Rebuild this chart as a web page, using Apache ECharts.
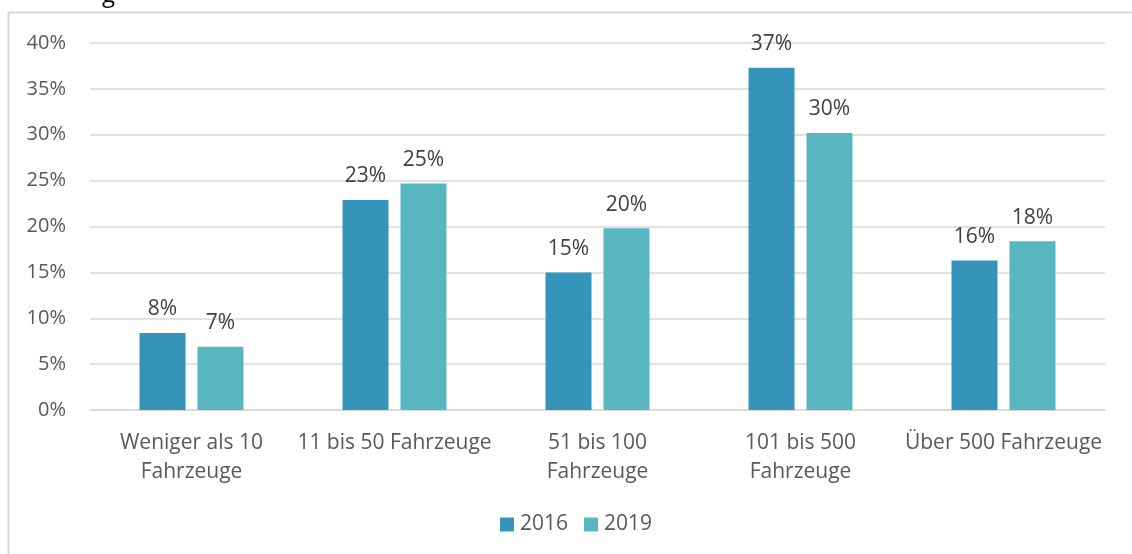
<!DOCTYPE html>
<html><head><meta charset="utf-8">
<script src="https://cdn.jsdelivr.net/npm/echarts@6/dist/echarts.min.js"></script>
<style>html,body{margin:0;padding:0;background:#fff}#c{width:1132px;height:554px}</style>
</head><body><div id="c"></div>
<script>
const categories = ["Weniger als 10\nFahrzeuge", "11 bis 50 Fahrzeuge", "51 bis 100\nFahrzeuge", "101 bis 500\nFahrzeuge", "Über 500 Fahrzeuge"];
const seriesNames = ["2016", "2019"];
const values2016 = [8.4, 22.9, 15.0, 37.3, 16.3];
const values2019 = [6.9, 24.7, 19.8, 30.2, 18.4];
const yTicks = [0, 5, 10, 15, 20, 25, 30, 35, 40];

const FONT = '"Open Sans", "Noto Sans", sans-serif';
const TXT = '#595959';
const FS = 21;
const chart = echarts.init(document.getElementById('c'), null, {renderer: 'canvas'});
chart.setOption({
  animation: false,
  textStyle: {fontFamily: FONT},
  graphic: [
    {type: 'rect', shape: {x: 8.5, y: 12.5, width: 1200, height: 700}, style: {fill: 'none', stroke: '#D9D9D9', lineWidth: 2}, silent: true, z: -1},
    {type: 'text', x: 102, y: -17, style: {text: 'g', fontSize: 24, fontFamily: FONT, fill: '#000'}}
  ],
  legend: {
    data: seriesNames, bottom: 14, left: 495, itemWidth: 14, itemHeight: 14, itemGap: 16,
    icon: 'rect', textStyle: {fontSize: FS, color: TXT, fontFamily: FONT, padding: [0,0,0,1]}
  },
  grid: {left: 90, right: 27, top: 43, bottom: 144},
  xAxis: {
    type: 'category', data: categories,
    axisLine: {lineStyle: {color: '#D9D9D9', width: 1.5}}, axisTick: {show: false},
    axisLabel: {color: TXT, fontSize: FS, fontFamily: FONT, lineHeight: 29, margin: 19, interval: 0}
  },
  yAxis: {
    type: 'value', min: yTicks[0], max: yTicks[yTicks.length-1], interval: 5,
    axisLine: {show: false}, axisTick: {show: false},
    splitLine: {lineStyle: {color: '#D9D9D9', width: 1.5}},
    axisLabel: {color: TXT, fontSize: 20, fontFamily: FONT, margin: 24, formatter: v => v + '%'}
  },
  series: [
    {name: seriesNames[0], type: 'bar', data: values2016, barWidth: 46, barGap: '26%',
     itemStyle: {color: '#3494BA'},
     label: {show: true, position: 'top', distance: 13, color: '#404040', fontSize: FS, fontFamily: FONT, formatter: p => Math.round(p.value) + '%'}},
    {name: seriesNames[1], type: 'bar', data: values2019, barWidth: 46,
     itemStyle: {color: '#58B6C0'},
     label: {show: true, position: 'top', distance: 13, color: '#404040', fontSize: FS, fontFamily: FONT, formatter: p => Math.round(p.value) + '%'}}
  ]
});
</script></body></html>
